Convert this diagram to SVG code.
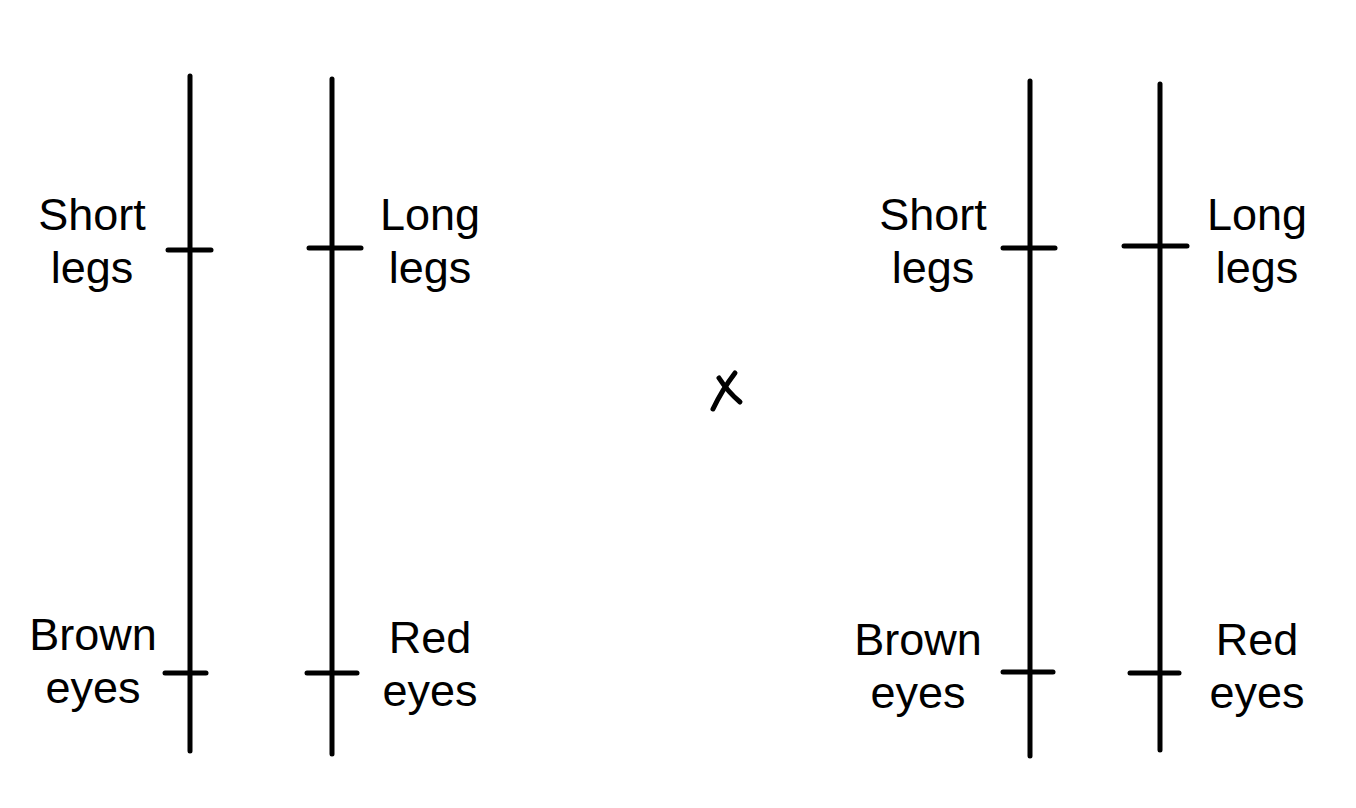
<svg xmlns="http://www.w3.org/2000/svg" width="1356" height="808" viewBox="0 0 1356 808">
<style>
.ln{stroke:#000;stroke-width:5;stroke-linecap:round;fill:none}
.t{font-family:"Liberation Sans",Arial,sans-serif;font-size:45px;fill:#000;text-anchor:middle}
</style>
<rect width="1356" height="808" fill="#fff"/>
<g id="chromosomes">
<g id="chr1"><line class="ln" x1="190" y1="76" x2="190" y2="751"/><line class="ln" x1="168" y1="250" x2="211" y2="250"/><line class="ln" x1="165" y1="673" x2="206" y2="673"/></g>
<g id="chr2"><line class="ln" x1="332" y1="79" x2="332" y2="754"/><line class="ln" x1="309" y1="248" x2="361" y2="248"/><line class="ln" x1="307" y1="673" x2="357" y2="673"/></g>
<g id="chr3"><line class="ln" x1="1030" y1="81" x2="1030" y2="756"/><line class="ln" x1="1003" y1="248" x2="1055" y2="248"/><line class="ln" x1="1003" y1="672" x2="1053" y2="672"/></g>
<g id="chr4"><line class="ln" x1="1160" y1="84" x2="1160" y2="750"/><line class="ln" x1="1124" y1="246" x2="1187" y2="246"/><line class="ln" x1="1130" y1="673" x2="1179" y2="673"/></g>
</g>
<g id="labels">
<text class="t" x="92" y="230">Short</text><text class="t" x="92" y="283">legs</text>
<text class="t" x="430" y="230">Long</text><text class="t" x="430" y="283">legs</text>
<text class="t" x="93" y="650">Brown</text><text class="t" x="93" y="703">eyes</text>
<text class="t" x="430" y="653">Red</text><text class="t" x="430" y="706">eyes</text>
<text class="t" x="933" y="230">Short</text><text class="t" x="933" y="283">legs</text>
<text class="t" x="1257" y="230">Long</text><text class="t" x="1257" y="283">legs</text>
<text class="t" x="918" y="655">Brown</text><text class="t" x="918" y="708">eyes</text>
<text class="t" x="1257" y="655">Red</text><text class="t" x="1257" y="708">eyes</text>
</g>
<g id="cross">
<path class="ln" d="M719,378 Q728,392 740,402"/>
<path class="ln" d="M735,373 Q722,390 713,409"/>
</g>
</svg>
